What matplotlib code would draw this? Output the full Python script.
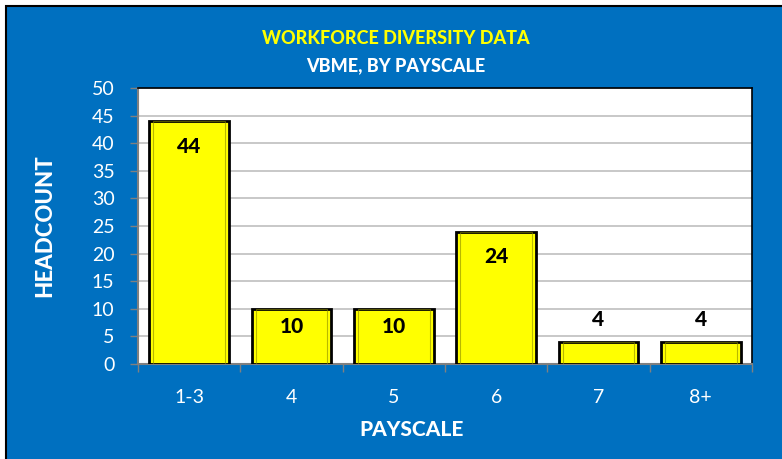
import matplotlib.pyplot as plt
from matplotlib.patches import Rectangle

categories = ['1-3', '4', '5', '6', '7', '8+']
headcount = [44, 10, 10, 24, 4, 4]
y_ticks = [0, 5, 10, 15, 20, 25, 30, 35, 40, 45, 50]

blue = '#0070C0'
font = ['Lato', 'DejaVu Sans']

fig = plt.figure(figsize=(7.82, 4.59), dpi=100, facecolor='white')
# blue chart area with thin black frame on the left/top
fig.patches.append(Rectangle((6 / 782, -0.01), 1.0, (459 - 6) / 459 + 0.01,
                             transform=fig.transFigure, facecolor=blue,
                             edgecolor='black', linewidth=1.5, zorder=-5))

ax = fig.add_axes([138 / 782, 95 / 459, 614 / 782, 276 / 459])
ax.set_zorder(2)
ax.set_facecolor('white')
x = range(len(categories))
bars = ax.bar(x, headcount, width=0.78, color='#FFFF00', edgecolor='black',
              linewidth=2, zorder=3)
# inner bevel shade
ax.bar(x, headcount, width=0.70, bottom=0, color='none', edgecolor='#8a8a00',
       linewidth=0.8, zorder=4, alpha=0.6)

for b, v in zip(bars, headcount):
    cx = b.get_x() + b.get_width() / 2
    if v >= 10:
        off = -min(18, v * 1.25)
    else:
        off = 16
    ax.annotate(str(v), (cx, v), xytext=(0, off), textcoords='offset points',
                ha='center', va='center', fontsize=15, fontweight='black',
                family=font, color='black', zorder=5)

ax.set_xlim(-0.5, len(categories) - 0.5)
ax.set_ylim(0, 50)
ax.set_yticks(y_ticks)
ax.set_yticklabels([str(t) for t in y_ticks], family=font, fontsize=14, color='white')
ax.set_xticks(list(x))
ax.set_xticklabels(categories, family=font, fontsize=14, color='white')
ax.set_xticks([i - 0.5 for i in range(len(categories) + 1)], minor=True)
ax.tick_params(axis='x', which='major', length=0, pad=18)
ax.tick_params(axis='x', which='minor', length=6, color='#808080', width=1)
ax.tick_params(axis='y', length=6, color='#808080', width=1, pad=11)
ax.grid(axis='y', color='#BFBFBF', linewidth=1.2, zorder=0)
ax.set_axisbelow(True)
for s in ['top', 'right']:
    ax.spines[s].set_color('black')
    ax.spines[s].set_linewidth(1.2)
for s in ['left', 'bottom']:
    ax.spines[s].set_color('#808080')
    ax.spines[s].set_linewidth(1.5)

ax.set_ylabel('HEADCOUNT', family=font, fontsize=16, fontweight='black',
              color='white')
ax.yaxis.set_label_coords((45 - 138) / 614, 0.5)
ax.set_xlabel('PAYSCALE', family=font, fontsize=15, fontweight='black',
              color='white')
ax.xaxis.set_label_coords((412 - 138) / 614, (364 - 430) / 276)
ax.xaxis.label.set_va('center')
ax.yaxis.label.set_va('center')

fig.text(396 / 782, 1 - 38 / 459, 'WORKFORCE DIVERSITY DATA', ha='center', va='center',
         family=font, fontsize=13, fontweight='black', color='#FFFF00')
fig.text(396 / 782, 1 - 66 / 459, 'VBME, BY PAYSCALE', ha='center', va='center',
         family=font, fontsize=13, fontweight='black', color='white')

fig.savefig('out.png', dpi=100, facecolor=fig.get_facecolor())
